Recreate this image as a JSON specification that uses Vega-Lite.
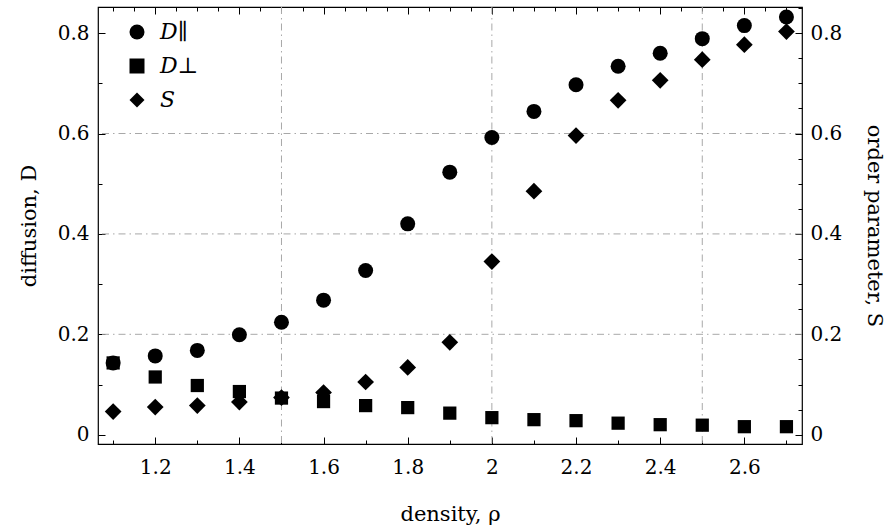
{
  "$schema": "https://vega.github.io/schema/vega-lite/v6.json",
  "width": 704,
  "height": 437,
  "autosize": "none",
  "padding": {"left": 98, "top": 7, "right": 89, "bottom": 83},
  "background": "white",
  "config": {
    "font": "DejaVu Serif",
    "view": {"stroke": "black", "strokeWidth": 1.2},
    "axis": {
      "domain": false,
      "grid": false,
      "labelFont": "DejaVu Serif",
      "titleFont": "DejaVu Serif",
      "labelFontSize": 20,
      "titleFontSize": 21,
      "titleFontWeight": "normal",
      "labelColor": "black",
      "titleColor": "black",
      "tickColor": "black",
      "tickWidth": 1
    }
  },
  "datasets": {
    "pts": [
      {"rho": 1.1, "series": "D∥", "value": 0.143},
      {"rho": 1.2, "series": "D∥", "value": 0.157},
      {"rho": 1.3, "series": "D∥", "value": 0.168},
      {"rho": 1.4, "series": "D∥", "value": 0.199},
      {"rho": 1.5, "series": "D∥", "value": 0.224},
      {"rho": 1.6, "series": "D∥", "value": 0.268},
      {"rho": 1.7, "series": "D∥", "value": 0.327},
      {"rho": 1.8, "series": "D∥", "value": 0.42},
      {"rho": 1.9, "series": "D∥", "value": 0.523},
      {"rho": 2.0, "series": "D∥", "value": 0.592},
      {"rho": 2.1, "series": "D∥", "value": 0.644},
      {"rho": 2.2, "series": "D∥", "value": 0.697},
      {"rho": 2.3, "series": "D∥", "value": 0.734},
      {"rho": 2.4, "series": "D∥", "value": 0.76},
      {"rho": 2.5, "series": "D∥", "value": 0.789},
      {"rho": 2.6, "series": "D∥", "value": 0.815},
      {"rho": 2.7, "series": "D∥", "value": 0.832},
      {"rho": 1.1, "series": "D⊥", "value": 0.143},
      {"rho": 1.2, "series": "D⊥", "value": 0.115},
      {"rho": 1.3, "series": "D⊥", "value": 0.098},
      {"rho": 1.4, "series": "D⊥", "value": 0.086},
      {"rho": 1.5, "series": "D⊥", "value": 0.073},
      {"rho": 1.6, "series": "D⊥", "value": 0.066},
      {"rho": 1.7, "series": "D⊥", "value": 0.058},
      {"rho": 1.8, "series": "D⊥", "value": 0.054},
      {"rho": 1.9, "series": "D⊥", "value": 0.043},
      {"rho": 2.0, "series": "D⊥", "value": 0.034},
      {"rho": 2.1, "series": "D⊥", "value": 0.03},
      {"rho": 2.2, "series": "D⊥", "value": 0.028},
      {"rho": 2.3, "series": "D⊥", "value": 0.023},
      {"rho": 2.4, "series": "D⊥", "value": 0.02},
      {"rho": 2.5, "series": "D⊥", "value": 0.019},
      {"rho": 2.6, "series": "D⊥", "value": 0.016},
      {"rho": 2.7, "series": "D⊥", "value": 0.016},
      {"rho": 1.1, "series": "S", "value": 0.046},
      {"rho": 1.2, "series": "S", "value": 0.055},
      {"rho": 1.3, "series": "S", "value": 0.058},
      {"rho": 1.4, "series": "S", "value": 0.065},
      {"rho": 1.5, "series": "S", "value": 0.074},
      {"rho": 1.6, "series": "S", "value": 0.084},
      {"rho": 1.7, "series": "S", "value": 0.105},
      {"rho": 1.8, "series": "S", "value": 0.134},
      {"rho": 1.9, "series": "S", "value": 0.184},
      {"rho": 2.0, "series": "S", "value": 0.345},
      {"rho": 2.1, "series": "S", "value": 0.485},
      {"rho": 2.2, "series": "S", "value": 0.596},
      {"rho": 2.3, "series": "S", "value": 0.666},
      {"rho": 2.4, "series": "S", "value": 0.706},
      {"rho": 2.5, "series": "S", "value": 0.747},
      {"rho": 2.6, "series": "S", "value": 0.777},
      {"rho": 2.7, "series": "S", "value": 0.803}
    ],
    "gridx": [{"gx": 1.5}, {"gx": 2.0}, {"gx": 2.5}],
    "gridy": [{"gy": 0.2}, {"gy": 0.4}, {"gy": 0.6}]
  },
  "layer": [
    {
      "layer": [
        {
          "data": {"name": "gridx"},
          "mark": {"type": "rule", "color": "#a8a8a8", "strokeWidth": 1, "strokeDash": [7, 4, 1.5, 4]},
          "encoding": {
            "x": {"field": "gx", "type": "quantitative", "scale": {"domain": [1.064, 2.737], "nice": false, "zero": false}}
          }
        },
        {
          "data": {"name": "gridy"},
          "mark": {"type": "rule", "color": "#a8a8a8", "strokeWidth": 1, "strokeDash": [7, 4, 1.5, 4]},
          "encoding": {
            "y": {"field": "gy", "type": "quantitative", "scale": {"domain": [-0.0185, 0.852], "nice": false, "zero": false}}
          }
        },
        {
          "data": {"name": "pts"},
          "transform": [{"filter": "datum.series == 'D∥'"}],
          "mark": {"type": "point", "filled": true, "color": "black", "opacity": 1, "size": 225},
          "encoding": {
            "x": {
              "field": "rho", "type": "quantitative",
              "scale": {"domain": [1.064, 2.737], "nice": false, "zero": false},
              "axis": {
                "orient": "bottom", "title": "density, ρ",
                "values": [1.1, 1.15, 1.2, 1.25, 1.3, 1.35, 1.4, 1.45, 1.5, 1.55, 1.6, 1.65, 1.7, 1.75, 1.8, 1.85, 1.9, 1.95, 2.0, 2.05, 2.1, 2.15, 2.2, 2.25, 2.3, 2.35, 2.4, 2.45, 2.5, 2.55, 2.6, 2.65, 2.7],
                "labelExpr": "abs(datum.value*5 - round(datum.value*5)) < 0.001 ? format(datum.value, '~g') : ''",
                "tickSize": {"condition": {"test": "abs(datum.value*5 - round(datum.value*5)) < 0.001", "value": -7}, "value": -4},
                "labelPadding": 20, "titlePadding": 26
              }
            },
            "y": {
              "field": "value", "type": "quantitative",
              "scale": {"domain": [-0.0185, 0.852], "nice": false, "zero": false},
              "axis": {
                "orient": "left", "title": "diffusion, D",
                "values": [0, 0.05, 0.1, 0.15, 0.2, 0.25, 0.3, 0.35, 0.4, 0.45, 0.5, 0.55, 0.6, 0.65, 0.7, 0.75, 0.8, 0.85],
                "labelExpr": "abs(datum.value*5 - round(datum.value*5)) < 0.001 ? format(datum.value, '~g') : ''",
                "tickSize": {"condition": {"test": "abs(datum.value*5 - round(datum.value*5)) < 0.001", "value": -7}, "value": -4},
                "labelPadding": 16, "titlePadding": 18
              }
            },
            "shape": {
              "field": "series", "type": "nominal",
              "scale": {"domain": ["D∥", "D⊥", "S"], "range": ["circle", "square", "diamond"]},
              "legend": {
                "title": null, "orient": "none", "legendX": 28, "legendY": 14,
                "labelFontSize": 22, "labelFont": "DejaVu Serif", "labelFontStyle": "italic", "labelColor": "black",
                "symbolFillColor": "black", "symbolStrokeColor": "black", "symbolStrokeWidth": 0, "symbolSize": 225, "symbolOpacity": 1,
                "rowPadding": 12, "labelOffset": 12, "padding": 0
              }
            }
          }
        },
        {
          "data": {"name": "pts"},
          "transform": [{"filter": "datum.series == 'D⊥'"}],
          "mark": {"type": "point", "filled": true, "color": "black", "opacity": 1, "size": 175},
          "encoding": {
            "x": {"field": "rho", "type": "quantitative", "scale": {"domain": [1.064, 2.737], "nice": false, "zero": false}},
            "y": {"field": "value", "type": "quantitative", "scale": {"domain": [-0.0185, 0.852], "nice": false, "zero": false}},
            "shape": {"field": "series", "type": "nominal", "scale": {"domain": ["D∥", "D⊥", "S"], "range": ["circle", "square", "diamond"]}}
          }
        }
      ]
    },
    {
      "data": {"name": "pts"},
      "transform": [{"filter": "datum.series == 'S'"}],
      "mark": {"type": "point", "filled": true, "color": "black", "opacity": 1, "size": 280},
      "encoding": {
        "x": {
          "field": "rho", "type": "quantitative",
          "scale": {"domain": [1.064, 2.737], "nice": false, "zero": false},
          "axis": {
            "orient": "top", "title": null, "labels": false,
            "values": [1.1, 1.15, 1.2, 1.25, 1.3, 1.35, 1.4, 1.45, 1.5, 1.55, 1.6, 1.65, 1.7, 1.75, 1.8, 1.85, 1.9, 1.95, 2.0, 2.05, 2.1, 2.15, 2.2, 2.25, 2.3, 2.35, 2.4, 2.45, 2.5, 2.55, 2.6, 2.65, 2.7],
            "tickSize": {"condition": {"test": "abs(datum.value*5 - round(datum.value*5)) < 0.001", "value": -7}, "value": -4}
          }
        },
        "y": {
          "field": "value", "type": "quantitative",
          "scale": {"domain": [-0.0185, 0.852], "nice": false, "zero": false},
          "axis": {
            "orient": "right", "title": "order parameter, S", "titleAngle": 90,
            "values": [0, 0.05, 0.1, 0.15, 0.2, 0.25, 0.3, 0.35, 0.4, 0.45, 0.5, 0.55, 0.6, 0.65, 0.7, 0.75, 0.8, 0.85],
            "labelExpr": "abs(datum.value*5 - round(datum.value*5)) < 0.001 ? format(datum.value, '~g') : ''",
            "tickSize": {"condition": {"test": "abs(datum.value*5 - round(datum.value*5)) < 0.001", "value": -7}, "value": -4},
            "labelPadding": 15, "titlePadding": 22
          }
        },
        "shape": {"field": "series", "type": "nominal", "scale": {"domain": ["D∥", "D⊥", "S"], "range": ["circle", "square", "diamond"]}}
      }
    }
  ],
  "resolve": {"scale": {"y": "independent"}, "axis": {"x": "independent"}}
}
